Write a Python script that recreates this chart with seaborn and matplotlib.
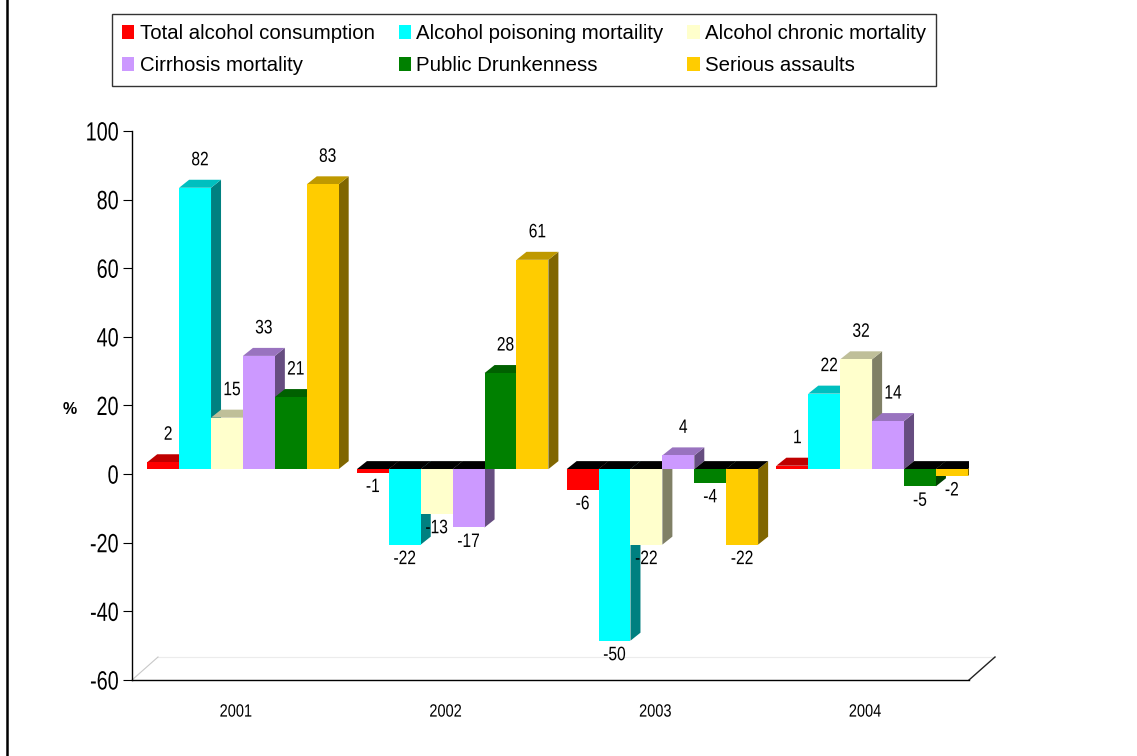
import numpy as np
import pandas as pd
import matplotlib
matplotlib.use("Agg")
import matplotlib.pyplot as plt
import seaborn as sns
from matplotlib import font_manager, transforms
from matplotlib.patches import Polygon, Patch
from matplotlib.lines import Line2D
from matplotlib.colors import to_rgb
from matplotlib.patheffects import AbstractPathEffect
from matplotlib.transforms import Affine2D

# ---------------- data ----------------
years = ["2001", "2002", "2003", "2004"]
series = ["Total alcohol consumption", "Alcohol poisoning mortaility",
          "Alcohol chronic mortality", "Cirrhosis mortality",
          "Public Drunkenness", "Serious assaults"]
total_alcohol = [2, -1, -6, 1]
poisoning = [82, -22, -50, 22]
chronic = [15, -13, -22, 32]
cirrhosis = [33, -17, 4, 14]
drunkenness = [21, 28, -4, -5]
assaults = [83, 61, -22, -2]
colors = ["#FF0000", "#00FFFF", "#FFFFCC", "#CC99FF", "#008000", "#FFCC00"]
yticks = [-60, -40, -20, 0, 20, 40, 60, 80, 100]

values = [total_alcohol, poisoning, chronic, cirrhosis, drunkenness, assaults]
df = pd.DataFrame([(y, s, v[i]) for s, v in zip(series, values) for i, y in enumerate(years)],
                  columns=["year", "series", "value"])

# ---------------- fonts ----------------
names = {f.name for f in font_manager.fontManager.ttflist}
narrow_avail = "Liberation Sans Narrow" in names
narrow = "Liberation Sans Narrow" if narrow_avail else "Liberation Sans"
regular = "Liberation Sans"
plt.rcParams["font.family"] = [regular, "DejaVu Sans"]


class Condense(AbstractPathEffect):
    """Horizontally condense glyphs (emulates a narrow typeface)."""
    def __init__(self, sx, pivot="center"):
        super().__init__()
        self.sx = sx
        self.pivot = pivot

    def draw_path(self, renderer, gc, tpath, affine, rgbFace=None):
        ext = tpath.get_extents()
        if self.pivot == "center":
            px = (ext.x0 + ext.x1) / 2
        elif self.pivot == "right":
            px = ext.x1
        else:
            px = ext.x0
        t = Affine2D().translate(-px, 0).scale(self.sx, 1).translate(px, 0) + affine
        renderer.draw_path(gc, tpath, t, rgbFace)


def cond(sx, pivot="center"):
    return [] if narrow_avail else [Condense(sx, pivot)]


W, H = 1137, 756
fig = plt.figure(figsize=(W / 100, H / 100), dpi=100)
ax_l, ax_r, ax_t, ax_b = 132, 969, 131, 680
ax = fig.add_axes([ax_l / W, 1 - ax_b / H, (ax_r - ax_l) / W, (ax_b - ax_t) / H])

group_w = 0.913
sns.barplot(data=df, x="year", y="value", hue="series", order=years, hue_order=series,
            palette=colors, width=group_w, dodge=True, saturation=1, errorbar=None,
            linewidth=0, legend=False, ax=ax)

ax.set_xlim(-0.529, 3.462)
ax.set_ylim(-60, 100)

px_x = (ax_r - ax_l) / (3.462 + 0.529)
px_y = (ax_b - ax_t) / 160.0
dx = 10 / px_x
dy = 8 / px_y

bar_tr = transforms.offset_copy(ax.transData, fig=fig, x=0, y=5, units="dots")
pos_lab_tr = transforms.offset_copy(ax.transData, fig=fig, x=0, y=5 + 27, units="dots")
neg_lab_tr = transforms.offset_copy(ax.transData, fig=fig, x=0, y=5 - 15, units="dots")


def shade(c, f):
    r, g, b = to_rgb(c)
    return (r * f, g * f, b * f)


bars = list(ax.patches)
bars_sorted = sorted(bars, key=lambda p: p.get_x())
for rank, p in enumerate(bars_sorted):
    x0 = p.get_x(); w = p.get_width(); x1 = x0 + w
    base = p.get_y(); v = base + p.get_height()
    col = p.get_facecolor()
    z = 3 + rank * 0.01
    p.set_transform(bar_tr)
    p.set_zorder(z)
    ax.add_patch(Polygon([(x1, 0), (x1 + dx, dy), (x1 + dx, v + dy), (x1, v)], closed=True,
                         facecolor=shade(col, 0.5), edgecolor="none", transform=bar_tr,
                         zorder=z - 0.001))
    if v >= 0:
        top = Polygon([(x0, v), (x1, v), (x1 + dx, v + dy), (x0 + dx, v + dy)], closed=True,
                      facecolor=shade(col, 0.75), edgecolor="none", transform=bar_tr,
                      zorder=z - 0.001)
        t = ax.text(x0 + w / 2 + dx / 2, v, f"{v:g}", transform=pos_lab_tr, ha="center",
                    va="center", fontsize=14, family=[narrow, "DejaVu Sans"], zorder=10)
    else:
        top = Polygon([(x0, 0), (x1, 0), (x1 + dx, dy), (x0 + dx, dy)], closed=True,
                      facecolor="black", edgecolor="none", transform=bar_tr, zorder=z - 0.001)
        t = ax.text(x0 + w / 2, v, f"{v:g}", transform=neg_lab_tr, ha="center", va="center",
                    fontsize=14, family=[narrow, "DejaVu Sans"], zorder=10)
    t.set_path_effects(cond(0.8))
    ax.add_patch(top)

# floor parallelogram at -60
fdx = 26 / px_x
fdy = 23 / px_y
xl, xr = ax.get_xlim()
ax.add_patch(Polygon([(xl, -60), (xr, -60), (xr + fdx, -60 + fdy), (xl + fdx, -60 + fdy)],
                     closed=True, facecolor="white", edgecolor="none", zorder=1, clip_on=False))
ax.plot([xl + fdx, xr + fdx], [-60 + fdy, -60 + fdy], color="#ececec", lw=0.8, zorder=1.5, clip_on=False)
ax.plot([xl, xl + fdx], [-60, -60 + fdy], color="#c8c8c8", lw=0.8, zorder=1.5, clip_on=False)
ax.plot([xr, xr + fdx], [-60, -60 + fdy], color="#222222", lw=1.0, zorder=1.5, clip_on=False)

# axes styling
for s in ["top", "right"]:
    ax.spines[s].set_visible(False)
for s in ["left", "bottom"]:
    ax.spines[s].set_color("black")
    ax.spines[s].set_linewidth(1.0)
ax.set_facecolor("none")
ax.set_yticks(yticks)
ax.set_yticklabels([str(t) for t in yticks], fontsize=19, family=[narrow, "DejaVu Sans"])
ax.tick_params(axis="y", direction="out", length=6.5, width=0.8, pad=3, color="black")
ax.set_xticks(np.arange(len(years)) - 7 / px_x)
ax.set_xticklabels(years, fontsize=12.8, family=[narrow, "DejaVu Sans"])
ax.tick_params(axis="x", length=0, pad=17)
ax.set_xlabel("")
ax.set_ylabel("%", rotation=0, fontsize=11.5, fontweight="bold", family=[regular, "DejaVu Sans"],
              ha="center", va="center")
ax.yaxis.set_label_coords((70 - ax_l) / (ax_r - ax_l), (ax_b - 410) / (ax_b - ax_t))

for lab in ax.get_yticklabels():
    lab.set_path_effects(cond(0.75, "right"))
for lab in ax.get_xticklabels():
    lab.set_path_effects(cond(0.82, "center"))

# legend (row-major order as in the reference)
handles = [Patch(facecolor=c, edgecolor="none") for c in colors]
ncol = 3
order = [r * ncol + c for c in range(ncol) for r in range(2)]
leg = fig.legend([handles[i] for i in order], [series[i] for i in order],
                 loc="upper left", ncol=ncol, mode="expand",
                 bbox_to_anchor=(112 / W, 1 - 86 / H, 824 / W, 72 / H), borderaxespad=0,
                 frameon=True, fancybox=False, handlelength=0.6, handleheight=0.7,
                 handletextpad=0.25, borderpad=0.5, labelspacing=0.65, columnspacing=1.0,
                 prop={"family": [regular, "DejaVu Sans"], "size": 14.7})
leg.get_frame().set_edgecolor("black")
leg.get_frame().set_linewidth(1.0)

# page frame line at left
fig.add_artist(Line2D([6.5 / W, 6.5 / W], [0, 1], color="black", lw=1.8, transform=fig.transFigure))

fig.savefig("out.png", dpi=100)
